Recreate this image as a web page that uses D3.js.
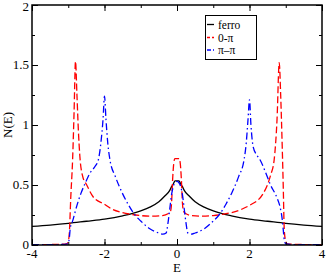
<!DOCTYPE html>
<html><head><meta charset="utf-8">
<script src="https://cdn.jsdelivr.net/npm/d3@7"></script>
<style>body{margin:0;background:#fff}svg{display:block}</style>
</head><body><svg id="c" width="327" height="273"></svg>
<script>
const xTicks = [-4, -2, 0, 2, 4];
const yTicks = [0, 0.5, 1, 1.5, 2];
const seriesNames = ["ferro", "0-\u03c0", "\u03c0\u2013\u03c0"];

const ferroE = [-4,-3.5,-3,-2.5,-2,-1.5,-1.2,-1,-0.75,-0.5,-0.33,-0.2,-0.15,-0.1,-0.055,0,0.055,0.1,0.15,0.2,0.33,0.5,0.75,1,1.2,1.5,2,2.5,3,3.5,4];
const ferroN = [0.155,0.166,0.18,0.198,0.216,0.243,0.265,0.285,0.315,0.36,0.41,0.455,0.486,0.51,0.535,0.535,0.535,0.51,0.486,0.455,0.41,0.36,0.315,0.285,0.265,0.243,0.216,0.198,0.18,0.166,0.155];

const zpE = [-4,-3.5,-3.2,-3.03,-3.0,-2.97,-2.93,-2.88,-2.84,-2.8,-2.76,-2.72,-2.68,-2.6,-2.49,-2.31,-2.0,-1.8,-1.5,-1.25,-1,-0.7,-0.4,-0.25,-0.18,-0.15,-0.12,-0.09,-0.06,0,0.06,0.09,0.12,0.15,0.18,0.25,0.4,0.7,1,1.25,1.5,1.8,2.0,2.38,2.58,2.68,2.76,2.82,2.86,2.9,2.93,2.96,3.0,3.03,3.2,3.5,4];
const zpN = [0.003,0.004,0.006,0.012,0.03,0.1,0.4,0.71,1.1,1.53,1.25,0.95,0.74,0.57,0.5,0.4,0.34,0.3,0.27,0.255,0.245,0.24,0.245,0.26,0.28,0.35,0.55,0.68,0.72,0.72,0.72,0.68,0.55,0.35,0.28,0.26,0.245,0.24,0.245,0.255,0.27,0.3,0.33,0.43,0.58,0.71,1.05,1.52,1.25,0.85,0.5,0.12,0.03,0.012,0.006,0.004,0.003];

const ppE = [-4,-3.2,-3.0,-2.97,-2.94,-2.9,-2.86,-2.77,-2.65,-2.54,-2.4,-2.25,-2.17,-2.1,-2.04,-2.0,-1.96,-1.91,-1.85,-1.7,-1.52,-1.35,-1.16,-1,-0.75,-0.5,-0.39,-0.3,-0.25,-0.2,-0.15,-0.1,-0.05,0,0.05,0.1,0.15,0.2,0.25,0.3,0.39,0.5,0.75,1,1.16,1.35,1.52,1.7,1.85,1.91,1.96,2.0,2.04,2.1,2.2,2.29,2.45,2.58,2.75,2.84,2.9,2.93,2.96,3.0,3.2,4];
const ppN = [0.002,0.004,0.01,0.06,0.15,0.18,0.22,0.32,0.43,0.51,0.6,0.66,0.71,0.85,1.05,1.24,1.05,0.85,0.71,0.57,0.44,0.34,0.25,0.2,0.135,0.1,0.09,0.1,0.18,0.3,0.42,0.49,0.52,0.53,0.52,0.49,0.42,0.3,0.18,0.1,0.09,0.1,0.135,0.2,0.25,0.34,0.44,0.57,0.71,0.85,1.05,1.21,1.0,0.82,0.75,0.71,0.6,0.5,0.4,0.32,0.22,0.13,0.04,0.01,0.004,0.002];

const FONT = "'Liberation Serif', 'Times New Roman', Times, serif";
const svg = d3.select("#c");
const L = 32, T = 5, R = 322, B = 245;
const x = d3.scaleLinear().domain([-4, 4]).range([L, R]);
const y = d3.scaleLinear().domain([0, 2]).range([B, T]);

const xMinor = d3.range(-4, 4.01, 1);
const yMinor = d3.range(0, 2.01, 0.25);

svg.append("defs").append("clipPath").attr("id","cp").append("rect")
  .attr("x", L).attr("y", T).attr("width", R-L).attr("height", B-T);
const line = d3.line().x(d => x(d[0])).y(d => y(d[1])).curve(d3.curveMonotoneX);
const g = svg.append("g").attr("clip-path","url(#cp)");
const series = [
  {E: ferroE, N: ferroN, color: "#000000", dash: null},
  {E: zpE, N: zpN, color: "#ff0000", dash: "7,3"},
  {E: ppE, N: ppN, color: "#0000ff", dash: "7,3,1.5,3"}
];
series.forEach(s => {
  g.append("path").datum(s.E.map((e,i)=>[e, s.N[i]]))
    .attr("d", line).attr("fill","none").attr("stroke", s.color)
    .attr("stroke-width", 1.3).attr("stroke-dasharray", s.dash);
});

function ax(axisGen, tx, ty, ticks, size) {
  const a = svg.append("g").attr("transform", `translate(${tx},${ty})`)
    .call(axisGen.tickValues(ticks).tickSize(size).tickSizeOuter(0));
  a.select(".domain").remove();
  a.selectAll("line").attr("stroke","#000").attr("stroke-width",1);
  a.selectAll("text").remove();
  return a;
}
ax(d3.axisTop(x), 0, B, xMinor, 3);
ax(d3.axisTop(x), 0, B, xTicks, 6);
ax(d3.axisBottom(x), 0, T, xMinor, 3);
ax(d3.axisBottom(x), 0, T, xTicks, 6);
ax(d3.axisRight(y), L, 0, yMinor, 3);
ax(d3.axisRight(y), L, 0, yTicks, 6);
ax(d3.axisLeft(y), R, 0, yMinor, 3);
ax(d3.axisLeft(y), R, 0, yTicks, 6);

function txt(sel) { return sel.style("font-family", FONT).style("font-size", "13px").attr("fill", "#000"); }

txt(svg.append("g").selectAll("text").data(xTicks).join("text")
  .attr("x", d => x(d)).attr("y", B + 12.5).attr("text-anchor","middle")
  .text(d => d));
txt(svg.append("g").selectAll("text").data(yTicks).join("text")
  .attr("x", L - 3).attr("y", d => Math.max(y(d) + 3.5, 11)).attr("text-anchor","end")
  .text(d => d));

svg.append("rect").attr("x", L).attr("y", T).attr("width", R-L).attr("height", B-T)
  .attr("fill","none").attr("stroke","#000").attr("stroke-width",1.5);

txt(svg.append("text").attr("x", x(0)).attr("y", 271.5).attr("text-anchor","middle").text("E"));
txt(svg.append("text").attr("transform", `translate(12,${(T+B)/2}) rotate(-90)`)
  .attr("text-anchor","middle").text("N(E)"));

const lg = svg.append("g");
lg.append("rect").attr("x", 205.5).attr("y", 15.5).attr("width", 51).attr("height", 44)
  .attr("fill","#fff").attr("stroke","#000").attr("stroke-width",1);
const rows = [24.5, 37.5, 50];
series.forEach((s,i) => {
  lg.append("line").attr("x1", 207).attr("x2", 214).attr("y1", rows[i]).attr("y2", rows[i])
    .attr("stroke", s.color).attr("stroke-width", 1.3)
    .attr("stroke-dasharray", i===1 ? "3,2" : (i===2 ? "4,2,1,2" : null));
  txt(lg.append("text").attr("x", 218).attr("y", rows[i] + 4).text(seriesNames[i]))
    .style("font-size", "11.5px");
});
</script></body></html>
